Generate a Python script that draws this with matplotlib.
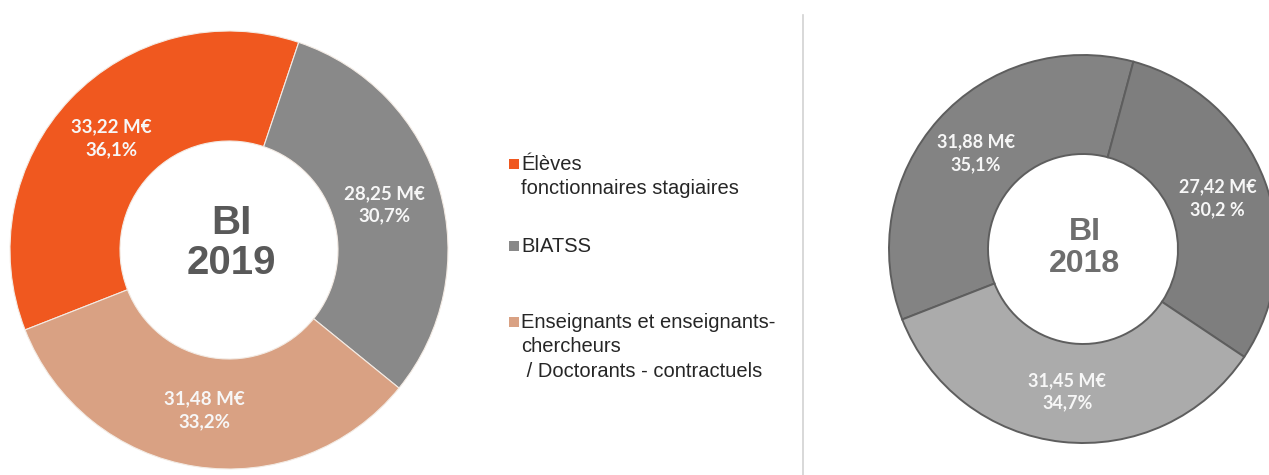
import numpy as np
import matplotlib
matplotlib.use("Agg")
import matplotlib.pyplot as plt

# data
categories = [["Élèves", "fonctionnaires stagiaires"],
              ["BIATSS"],
              ["Enseignants et enseignants-", "chercheurs", " / Doctorants - contractuels"]]
amounts_2019 = ["33,22 M€", "28,25 M€", "31,48 M€"]
pct_2019 = [36.1, 30.7, 33.2]
pct_2019_lbl = ["36,1%", "30,7%", "33,2%"]
amounts_2018 = ["31,88 M€", "27,42 M€", "31,45 M€"]
pct_2018 = [35.1, 30.2, 34.7]
pct_2018_lbl = ["35,1%", "30,2 %", "34,7%"]

colors_2019 = ["#F0581F", "#898989", "#D9A183"]
colors_2018 = ["#838383", "#7e7e7e", "#ababab"]

W, H = 1269, 475
fig = plt.figure(figsize=(W / 100, H / 100), dpi=100)
ax = fig.add_axes([0, 0, 1, 1])

lbl_font = dict(family=["Lato", "DejaVu Sans"], weight="bold", color="#f7f7f7",
                ha="center", va="center", linespacing=1.4)


def donut(center, radius, width, vals, cols, edge, lw, texts, fs, start, label_r=0.74):
    wedges, _ = ax.pie(vals, colors=cols, center=center, radius=radius,
                       startangle=start, counterclock=False, frame=True,
                       wedgeprops=dict(width=width, edgecolor=edge, linewidth=lw))
    for w, t in zip(wedges, texts):
        ang = np.deg2rad((w.theta1 + w.theta2) / 2)
        ax.text(center[0] + label_r * radius * np.cos(ang),
                center[1] + label_r * radius * np.sin(ang),
                t, fontsize=fs, **lbl_font)
    return wedges


# BI 2019
donut((229, 225), 219, 110, pct_2019, colors_2019, "#f3ebe4", 0.8,
      [f"{a}\n{p}" for a, p in zip(amounts_2019, pct_2019_lbl)], 13.5, 90 - 248.6)
ax.text(231, 232, "BI\n2019", fontsize=29, weight="bold", color="#595959",
        family=["Liberation Sans", "DejaVu Sans"], ha="center", va="center",
        linespacing=1.05)

# BI 2018
donut((1083, 226), 194, 99, pct_2018, colors_2018, "#5e5e5e", 1.4,
      [f"{a}\n{p}" for a, p in zip(amounts_2018, pct_2018_lbl)], 13, 90 - 248.7)
ax.text(1085, 227, "BI\n2018", fontsize=23, weight="bold", color="#6e6e6e",
        family=["Liberation Sans", "DejaVu Sans"], ha="center", va="center",
        linespacing=1.05)

ax.set_xlim(0, W)
ax.set_ylim(0, H)
ax.set_aspect("equal")
ax.axis("off")

# legend drawn by hand so the marker sits on the first line
leg_y = [H - 170, H - 252, H - 328]
line_step = 24.5
for y, c, lines in zip(leg_y, colors_2019, categories):
    ax.scatter([514], [y + 6], marker="s", s=42, color=c, linewidths=0)
    for i, ln in enumerate(lines):
        ax.text(521, y - i * line_step, ln, fontsize=14.5, color="#262626",
                va="baseline", ha="left", family=["Liberation Sans", "DejaVu Sans"])

# divider
ax.plot([803, 803], [0, H - 15], color="#d2d2d2", lw=1.2)

fig.savefig("out.png", dpi=100, facecolor="white")
